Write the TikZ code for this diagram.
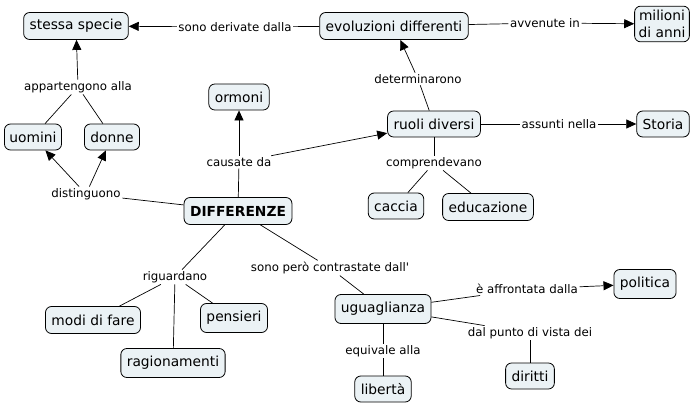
\documentclass[tikz,border=0pt]{standalone}
\usepackage{fontspec}
\setmainfont{DejaVu Sans}
\usetikzlibrary{arrows.meta}

\begin{document}
\begin{tikzpicture}[
    x=1pt, y=-1pt,
    concept/.style={draw=black, fill=cmapfill, rounded corners=6pt, line width=0.8pt,
        inner xsep=6pt, inner ysep=2pt, minimum height=27pt, font=\fontsize{13.8}{15}\selectfont,
        align=center},
    link/.style={fill=white, inner sep=1.5pt, font=\fontsize{11.8}{13}\selectfont},
    rel/.style={line width=0.7pt},
    arr/.style={rel, -{Triangle[length=10pt,width=9pt]}}
]

    % Colori
    \definecolor{cmapfill}{RGB}{235, 242, 245}

    \useasboundingbox (0,0) rectangle (699,406);

    % Concetti
    \node[concept] (specie) at (76,26) {stessa specie};
    \node[concept] (evoluzioni) at (394,26) {evoluzioni differenti};
    \node[concept, inner xsep=4pt, inner ysep=4pt, font=\fontsize{13.8}{17}\selectfont] (milioni) at (662,24) {milioni\\di anni};
    \node[concept, minimum height=26pt] (ormoni) at (239,97) {ormoni};
    \node[concept, minimum height=26pt] (ruoli) at (434,124) {ruoli diversi};
    \node[concept, minimum height=26pt] (storia) at (663,124) {Storia};
    \node[concept, minimum height=26pt, inner xsep=5pt] (uomini) at (33,137) {uomini};
    \node[concept, minimum height=26pt] (donne) at (112,137) {donne};
    \node[concept, font=\fontsize{13.8}{15}\selectfont\bfseries] (diff) at (238,211) {DIFFERENZE};
    \node[concept, minimum height=26pt] (caccia) at (396,206) {caccia};
    \node[concept] (educazione) at (488,207) {educazione};
    \node[concept, minimum height=29pt] (politica) at (645,284) {politica};
    \node[concept, minimum height=29pt] (uguaglianza) at (383,309) {uguaglianza};
    \node[concept] (modi) at (93,320) {modi di fare};
    \node[concept, minimum height=29pt] (pensieri) at (234,318) {pensieri};
    \node[concept, minimum height=29pt] (ragionamenti) at (173,363) {ragionamenti};
    \node[concept, minimum height=26pt] (liberta) at (383,389) {libertà};
    \node[concept, minimum height=26pt] (diritti) at (530,376) {diritti};

    % Frasi legame
    \node[link] (l_derivate) at (235,27) {sono derivate dalla};
    \node[link] (l_avvenute) at (545,23) {avvenute in};
    \node[link] (l_appart) at (78,87) {appartengono alla};
    \node[link] (l_disting) at (86,194) {distinguono};
    \node[link] (l_causate) at (239,162) {causate da};
    \node[link] (l_determ) at (418,79) {determinarono};
    \node[link] (l_assunti) at (559,124) {assunti nella};
    \node[link] (l_compr) at (434,163) {comprendevano};
    \node[link] (l_riguard) at (175,277) {riguardano};
    \node[link] (l_contrast) at (330,268) {sono però contrastate dall\textquotesingle};
    \node[link] (l_affront) at (527,289) {è affrontata dalla};
    \node[link] (l_punto) at (530,333) {dal punto di vista dei};
    \node[link] (l_equiv) at (383,351) {equivale alla};

    % Collegamenti in alto
    \draw[rel] (evoluzioni) -- (l_derivate);
    \draw[arr] (l_derivate) -- (specie);
    \draw[rel] (evoluzioni) -- (l_avvenute);
    \draw[arr] (l_avvenute) -- (milioni);

    % Uomini e donne
    \draw[rel] (uomini) -- (l_appart);
    \draw[rel] (donne) -- (l_appart);
    \draw[arr] (l_appart) -- (specie);
    \draw[rel] (diff) -- (l_disting);
    \draw[arr] (l_disting) -- (uomini);
    \draw[arr] (l_disting) -- (donne);

    % Cause
    \draw[rel] (diff) -- (l_causate);
    \draw[arr] (l_causate) -- (ormoni);
    \draw[arr] (l_causate) -- (ruoli);
    \draw[rel] (ruoli) -- (l_determ);
    \draw[arr] (l_determ) -- (evoluzioni);
    \draw[rel] (ruoli) -- (l_assunti);
    \draw[arr] (l_assunti) -- (storia);
    \draw[rel] (ruoli) -- (l_compr);
    \draw[rel] (l_compr) -- (caccia);
    \draw[rel] (l_compr) -- (educazione);

    % Riguardano
    \draw[rel] (diff) -- (l_riguard);
    \draw[rel] (l_riguard) -- (modi);
    \draw[rel] (l_riguard) -- (ragionamenti);
    \draw[rel] (l_riguard) -- (pensieri);

    % Uguaglianza
    \draw[rel] (diff) -- (l_contrast);
    \draw[rel] (l_contrast) -- (uguaglianza);
    \draw[rel] (uguaglianza) -- (l_affront);
    \draw[arr] (l_affront) -- (politica);
    \draw[rel] (uguaglianza) -- (l_punto);
    \draw[rel] (l_punto) -- (diritti);
    \draw[rel] (uguaglianza) -- (l_equiv);
    \draw[rel] (l_equiv) -- (liberta);

\end{tikzpicture}
\end{document}
